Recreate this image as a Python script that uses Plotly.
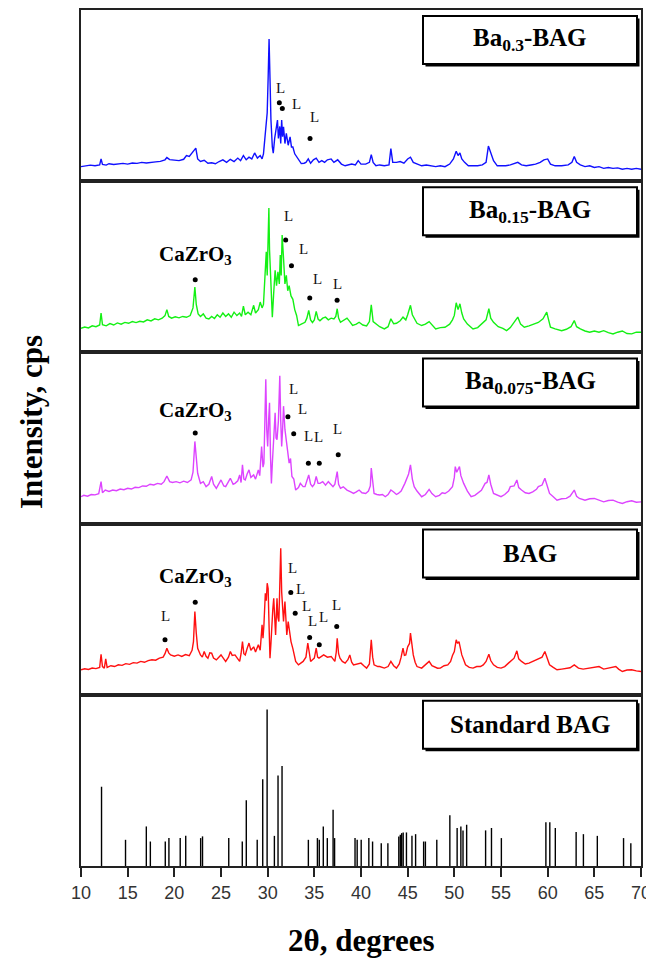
import plotly.graph_objects as go
from plotly.subplots import make_subplots

# ---------------- data (2theta, relative intensity in % of panel height) ----------------
X_RANGE = [10, 70]
X_TICKS = [10, 15, 20, 25, 30, 35, 40, 45, 50, 55, 60, 65, 70]

BA03 = [(10.0, 8.5), (10.5, 8.8), (11.0, 9.4), (11.5, 9.0), (12.0, 9.5), (12.15, 13.0), (12.3, 9.8),
        (12.7, 9.4), (13.0, 10.2), (13.5, 9.8), (14.0, 10.1), (14.5, 10.4), (15.0, 10.0), (15.5, 10.6),
        (16.0, 10.4), (16.5, 11.0), (17.0, 10.6), (17.5, 11.1), (18.0, 11.3), (18.5, 11.6), (19.0, 12.5),
        (19.2, 13.8), (19.5, 12.6), (20.0, 12.3), (20.5, 12.0), (21.0, 12.8), (21.3, 15.0), (21.6, 14.5),
        (21.9, 16.5), (22.1, 18.5), (22.3, 19.3), (22.5, 13.0), (22.8, 11.5), (23.2, 12.2), (23.6, 10.5),
        (24.0, 10.8), (24.4, 10.2), (24.8, 11.5), (25.2, 12.5), (25.6, 11.0), (26.0, 12.8), (26.4, 11.5),
        (26.8, 13.5), (27.1, 12.0), (27.4, 15.0), (27.7, 12.5), (28.0, 14.0), (28.3, 13.0), (28.6, 16.5),
        (28.9, 13.5), (29.2, 15.0), (29.4, 13.0), (29.55, 16.0), (29.7, 25.0), (29.85, 38.0), (29.95, 40.0),
        (30.05, 60.0), (30.15, 83.0), (30.25, 60.0), (30.35, 36.0), (30.5, 20.0), (30.6, 16.4), (30.75, 25.0),
        (30.9, 30.0), (31.05, 35.7), (31.15, 25.0), (31.3, 32.0), (31.4, 22.0), (31.5, 35.7), (31.6, 26.0),
        (31.7, 31.8), (31.85, 22.0), (32.0, 27.9), (32.2, 21.0), (32.4, 25.9), (32.55, 20.0), (32.7, 20.0),
        (32.9, 16.0), (33.1, 14.2), (33.35, 12.0), (33.6, 10.3), (33.9, 10.5), (34.1, 11.0), (34.35, 13.0),
        (34.6, 10.5), (34.9, 12.5), (35.2, 13.5), (35.5, 11.0), (35.8, 12.0), (36.1, 11.0), (36.4, 12.5),
        (36.8, 13.0), (37.1, 11.0), (37.5, 12.5), (37.9, 10.0), (38.3, 9.0), (38.7, 9.5), (39.0, 10.0),
        (39.4, 9.5), (39.7, 12.0), (40.0, 10.0), (40.5, 10.0), (40.9, 11.0), (41.1, 15.5), (41.3, 11.0),
        (41.6, 9.0), (42.0, 9.5), (42.5, 9.0), (43.0, 9.5), (43.2, 19.0), (43.4, 11.0), (43.8, 11.0),
        (44.2, 11.5), (44.6, 10.5), (45.0, 13.0), (45.3, 14.0), (45.6, 11.0), (46.0, 10.0), (46.5, 9.0),
        (47.0, 9.5), (47.5, 9.0), (48.0, 8.5), (48.5, 9.0), (49.0, 8.5), (49.5, 10.0), (49.9, 13.0),
        (50.2, 17.5), (50.4, 15.0), (50.6, 16.5), (50.8, 13.0), (51.1, 11.0), (51.5, 9.0), (52.0, 9.0),
        (52.5, 9.0), (53.0, 9.5), (53.4, 11.0), (53.65, 20.5), (53.9, 16.0), (54.2, 12.0), (54.6, 9.0),
        (55.0, 9.0), (55.5, 9.0), (56.0, 9.5), (56.5, 10.5), (56.8, 11.0), (57.2, 9.5), (57.7, 9.0),
        (58.2, 9.5), (58.7, 10.0), (59.2, 11.0), (59.6, 12.5), (60.0, 13.0), (60.3, 10.0), (60.8, 9.0),
        (61.5, 9.0), (62.2, 9.5), (62.6, 11.0), (62.85, 14.5), (63.1, 11.0), (63.5, 9.5), (64.0, 8.5),
        (64.5, 9.0), (65.0, 8.0), (65.5, 8.5), (66.0, 7.5), (66.5, 8.0), (67.0, 7.5), (67.5, 7.8),
        (68.0, 7.0), (68.5, 7.5), (69.0, 7.0), (69.5, 7.5), (70.0, 7.0)]

BA015 = [(10.0, 14.1), (10.4, 14.8), (10.8, 14.3), (11.2, 15.5), (11.6, 15.0), (12.0, 16.0), (12.15, 23.0),
         (12.3, 16.2), (12.7, 15.5), (13.1, 16.8), (13.5, 16.0), (13.9, 17.2), (14.3, 16.5), (14.7, 17.5),
         (15.1, 17.0), (15.5, 18.0), (15.9, 17.4), (16.3, 18.2), (16.7, 17.8), (17.1, 19.0), (17.5, 18.4),
         (17.9, 19.6), (18.3, 19.0), (18.7, 20.0), (19.0, 21.5), (19.2, 25.0), (19.4, 21.0), (19.7, 20.0),
         (20.1, 20.8), (20.5, 20.2), (20.9, 21.0), (21.3, 20.5), (21.7, 21.5), (22.0, 26.0), (22.2, 38.2),
         (22.35, 28.0), (22.55, 22.5), (22.8, 21.0), (23.1, 22.5), (23.4, 20.0), (23.7, 19.5), (24.0, 21.0),
         (24.3, 19.8), (24.6, 22.0), (24.9, 20.5), (25.2, 23.0), (25.5, 21.0), (25.8, 22.5), (26.1, 20.5),
         (26.4, 23.5), (26.7, 21.5), (27.0, 23.0), (27.2, 21.0), (27.4, 27.0), (27.6, 22.0), (27.9, 23.5),
         (28.2, 22.0), (28.5, 27.5), (28.7, 23.0), (29.0, 25.0), (29.2, 29.4), (29.4, 26.0), (29.55, 28.0),
         (29.7, 45.0), (29.85, 58.8), (29.95, 45.0), (30.05, 70.0), (30.13, 84.3), (30.2, 60.0), (30.3, 45.0),
         (30.5, 20.6), (30.65, 35.0), (30.8, 48.0), (30.95, 39.0), (31.1, 47.0), (31.25, 40.0), (31.35, 56.9),
         (31.45, 45.0), (31.55, 68.6), (31.7, 55.0), (31.85, 40.0), (32.0, 45.0), (32.15, 36.0), (32.3, 39.0),
         (32.5, 33.0), (32.7, 31.0), (32.9, 25.0), (33.1, 21.6), (33.3, 15.7), (33.6, 16.5), (34.0, 17.6),
         (34.2, 20.0), (34.4, 24.5), (34.6, 19.0), (34.8, 17.5), (35.0, 19.0), (35.2, 24.0), (35.4, 19.5),
         (35.6, 18.5), (35.9, 20.0), (36.2, 20.6), (36.5, 19.0), (36.8, 20.0), (37.1, 19.6), (37.3, 21.0),
         (37.45, 25.5), (37.6, 20.0), (37.8, 17.6), (38.1, 18.5), (38.5, 20.0), (38.8, 18.0), (39.1, 15.7),
         (39.5, 16.5), (39.8, 17.6), (40.2, 16.0), (40.6, 15.5), (40.9, 18.0), (41.1, 27.8), (41.3, 18.0),
         (41.6, 16.7), (42.0, 15.0), (42.5, 13.7), (42.9, 15.0), (43.2, 19.6), (43.5, 16.7), (43.8, 17.0),
         (44.2, 18.5), (44.5, 20.6), (44.8, 19.0), (45.0, 22.0), (45.3, 27.5), (45.5, 22.0), (45.7, 19.6),
         (46.0, 17.0), (46.5, 15.7), (46.9, 16.5), (47.3, 18.0), (47.6, 16.0), (48.0, 13.7), (48.5, 14.5),
         (49.0, 14.7), (49.5, 16.5), (49.8, 19.0), (50.0, 21.6), (50.2, 29.0), (50.4, 25.0), (50.6, 28.4),
         (50.8, 23.0), (51.0, 19.6), (51.4, 16.5), (52.0, 13.7), (52.5, 14.5), (53.0, 16.7), (53.4, 19.0),
         (53.7, 25.5), (53.9, 20.0), (54.2, 17.6), (54.7, 15.0), (55.2, 14.0), (55.6, 12.7), (56.0, 14.5),
         (56.4, 17.6), (56.8, 20.6), (57.1, 16.5), (57.5, 14.7), (58.0, 15.5), (58.5, 16.7), (59.0, 17.5),
         (59.5, 19.6), (59.9, 23.5), (60.1, 19.0), (60.3, 14.7), (60.8, 13.7), (61.5, 12.7), (62.0, 13.5),
         (62.5, 15.0), (62.85, 18.6), (63.1, 15.0), (63.5, 13.7), (64.0, 12.5), (64.5, 11.8), (65.0, 12.5),
         (65.5, 11.8), (66.0, 12.7), (66.5, 11.5), (67.0, 10.8), (67.5, 11.8), (68.0, 12.5), (68.5, 11.0),
         (69.0, 10.8), (69.5, 11.8), (70.0, 11.8)]

BA0075 = [(10.0, 15.7), (10.3, 16.5), (10.7, 16.0), (11.1, 17.0), (11.5, 16.8), (11.9, 17.5), (12.15, 24.5),
          (12.3, 18.0), (12.6, 19.6), (13.0, 18.8), (13.4, 19.6), (13.8, 19.2), (14.2, 20.2), (14.6, 19.8),
          (15.0, 20.6), (15.4, 20.2), (15.8, 21.2), (16.2, 21.0), (16.6, 22.0), (17.0, 21.8), (17.4, 23.0),
          (17.8, 22.6), (18.2, 23.5), (18.6, 23.0), (18.9, 24.5), (19.2, 27.8), (19.5, 24.5), (19.8, 24.0),
          (20.2, 24.5), (20.6, 23.8), (21.0, 24.8), (21.4, 24.0), (21.8, 25.5), (22.0, 30.0), (22.2, 48.0),
          (22.35, 36.0), (22.5, 29.4), (22.8, 23.5), (23.1, 24.5), (23.4, 21.6), (23.7, 23.0), (24.0, 27.5),
          (24.2, 23.0), (24.5, 20.6), (24.8, 23.5), (25.0, 25.5), (25.3, 22.0), (25.5, 21.6), (25.8, 24.5),
          (26.0, 26.5), (26.3, 23.0), (26.5, 23.5), (26.8, 25.0), (27.0, 28.4), (27.15, 24.0), (27.3, 34.3),
          (27.45, 26.0), (27.6, 25.5), (27.8, 29.0), (28.0, 31.4), (28.2, 27.0), (28.5, 28.4), (28.7, 26.0),
          (29.0, 31.4), (29.15, 28.0), (29.35, 45.0), (29.5, 33.0), (29.6, 35.3), (29.7, 60.0), (29.8, 84.3),
          (29.9, 55.0), (30.0, 45.0), (30.1, 60.0), (30.2, 70.6), (30.3, 40.0), (30.4, 23.5), (30.5, 35.0),
          (30.6, 45.0), (30.7, 55.0), (30.8, 64.7), (30.9, 50.0), (31.0, 49.0), (31.15, 60.0), (31.3, 86.3),
          (31.4, 60.0), (31.5, 45.0), (31.6, 55.0), (31.7, 68.6), (31.85, 55.0), (32.0, 49.0), (32.15, 42.0),
          (32.3, 35.3), (32.45, 38.0), (32.6, 27.5), (32.8, 26.0), (33.0, 19.6), (33.3, 21.0), (33.5, 23.5),
          (33.8, 21.6), (34.0, 21.6), (34.2, 25.0), (34.4, 28.4), (34.6, 23.0), (34.8, 21.6), (35.0, 23.0),
          (35.2, 27.5), (35.4, 23.5), (35.6, 23.5), (35.9, 24.5), (36.2, 22.5), (36.5, 24.5), (36.8, 23.0),
          (37.0, 21.6), (37.2, 23.0), (37.45, 30.4), (37.6, 23.0), (37.8, 20.6), (38.1, 21.5), (38.5, 19.6),
          (38.9, 18.5), (39.2, 17.6), (39.5, 18.5), (39.8, 19.6), (40.1, 18.0), (40.5, 17.6), (40.8, 19.0),
          (41.0, 22.0), (41.1, 32.4), (41.25, 24.0), (41.4, 17.6), (41.7, 17.0), (42.0, 16.7), (42.3, 17.0),
          (42.6, 15.7), (42.9, 17.0), (43.2, 19.6), (43.5, 18.5), (43.8, 17.0), (44.0, 17.6), (44.3, 19.0),
          (44.7, 23.5), (44.9, 26.0), (45.1, 29.0), (45.3, 34.3), (45.5, 26.0), (45.7, 21.6), (46.0, 19.0),
          (46.5, 15.7), (46.9, 17.0), (47.3, 20.0), (47.6, 17.5), (48.0, 15.7), (48.4, 16.5), (48.7, 18.0),
          (49.0, 17.6), (49.4, 19.0), (49.8, 21.6), (50.0, 27.0), (50.1, 33.3), (50.25, 30.0), (50.4, 31.4),
          (50.55, 33.3), (50.7, 28.0), (50.85, 25.0), (51.0, 23.5), (51.4, 19.0), (51.8, 15.7), (52.2, 16.5),
          (52.5, 17.6), (52.9, 19.5), (53.3, 23.5), (53.5, 24.0), (53.7, 28.4), (53.9, 23.0), (54.2, 17.6),
          (54.6, 16.5), (55.0, 15.7), (55.4, 17.0), (55.8, 19.0), (56.0, 21.6), (56.4, 22.0), (56.7, 25.5),
          (56.9, 21.0), (57.2, 19.6), (57.6, 18.0), (58.0, 17.6), (58.4, 18.5), (58.8, 20.0), (59.0, 21.6),
          (59.4, 22.5), (59.7, 26.5), (59.9, 23.0), (60.2, 17.6), (60.6, 15.7), (61.0, 13.7), (61.5, 14.5),
          (62.0, 14.7), (62.4, 16.0), (62.6, 17.5), (62.85, 19.6), (63.1, 16.0), (63.4, 14.7), (64.0, 13.7),
          (64.5, 14.5), (65.0, 14.7), (65.5, 13.8), (66.0, 12.7), (66.5, 13.5), (67.0, 13.7), (67.5, 12.5),
          (68.0, 11.8), (68.5, 12.8), (69.0, 13.3), (69.5, 12.5), (70.0, 12.7)]

BAG = [(10.0, 14.6), (10.4, 15.2), (10.8, 14.8), (11.2, 15.6), (11.6, 15.3), (12.0, 16.0), (12.15, 23.7),
       (12.3, 16.5), (12.5, 15.6), (12.65, 21.0), (12.8, 16.0), (13.2, 17.0), (13.6, 16.5), (14.0, 17.5),
       (14.4, 17.2), (14.8, 18.2), (15.2, 17.8), (15.6, 18.8), (16.0, 18.5), (16.4, 19.5), (16.8, 19.0),
       (17.2, 20.0), (17.6, 20.5), (18.0, 20.2), (18.4, 21.4), (18.8, 22.0), (19.0, 24.0), (19.2, 27.2),
       (19.4, 24.5), (19.6, 23.3), (20.0, 22.5), (20.4, 23.3), (20.8, 22.4), (21.2, 23.5), (21.6, 22.8),
       (21.9, 26.0), (22.05, 31.1), (22.2, 48.6), (22.35, 36.0), (22.5, 27.2), (22.8, 23.3), (23.0, 22.0),
       (23.2, 25.3), (23.4, 22.5), (23.6, 21.4), (23.8, 24.5), (24.0, 24.3), (24.2, 21.5), (24.5, 20.4),
       (24.8, 22.5), (25.0, 23.3), (25.3, 21.0), (25.5, 19.5), (25.8, 22.0), (26.0, 25.3), (26.2, 23.0),
       (26.5, 23.3), (26.8, 21.0), (27.0, 19.5), (27.15, 24.0), (27.3, 31.1), (27.45, 24.0), (27.6, 23.3),
       (27.8, 27.0), (28.0, 30.2), (28.2, 26.0), (28.5, 28.0), (28.7, 25.0), (29.0, 29.2), (29.2, 26.0),
       (29.4, 40.9), (29.5, 33.0), (29.6, 40.9), (29.75, 59.3), (29.85, 55.0), (29.95, 65.2), (30.05, 62.0),
       (30.15, 40.0), (30.25, 21.4), (30.35, 30.0), (30.45, 42.8), (30.55, 50.0), (30.65, 56.4), (30.75, 45.0),
       (30.85, 35.0), (31.0, 56.4), (31.1, 45.0), (31.2, 42.8), (31.3, 60.0), (31.4, 85.6), (31.5, 60.0),
       (31.6, 46.7), (31.7, 42.8), (31.85, 54.5), (31.95, 45.0), (32.05, 35.0), (32.2, 42.8), (32.35, 35.0),
       (32.5, 31.1), (32.7, 27.0), (33.0, 19.5), (33.3, 17.5), (33.6, 18.5), (33.8, 19.5), (34.1, 22.0),
       (34.3, 30.2), (34.45, 25.0), (34.6, 19.5), (34.8, 20.5), (35.0, 21.4), (35.2, 27.2), (35.35, 22.0),
       (35.5, 21.4), (35.8, 22.5), (36.0, 23.3), (36.4, 22.0), (36.8, 22.4), (37.2, 19.5), (37.35, 25.0),
       (37.45, 33.0), (37.6, 24.0), (37.75, 21.4), (38.0, 19.5), (38.3, 18.5), (38.6, 20.5), (38.8, 23.3),
       (39.0, 19.0), (39.2, 17.5), (39.6, 18.0), (40.0, 18.5), (40.3, 17.0), (40.6, 15.6), (40.9, 18.0),
       (41.0, 23.0), (41.1, 32.1), (41.25, 22.0), (41.4, 17.5), (41.8, 16.5), (42.0, 16.5), (42.5, 15.6),
       (42.9, 16.5), (43.2, 19.5), (43.5, 17.0), (43.8, 15.6), (44.1, 18.0), (44.3, 22.0), (44.5, 27.2),
       (44.65, 23.0), (44.8, 23.3), (45.0, 28.0), (45.2, 30.0), (45.3, 36.0), (45.45, 28.0), (45.6, 23.3),
       (45.8, 19.0), (46.0, 16.5), (46.5, 15.6), (46.9, 17.5), (47.3, 19.5), (47.6, 17.0), (47.8, 16.5),
       (48.2, 15.5), (48.5, 15.6), (48.9, 17.0), (49.3, 17.5), (49.6, 19.5), (49.8, 23.0), (50.0, 25.3),
       (50.2, 32.1), (50.35, 30.0), (50.5, 31.1), (50.65, 27.0), (50.8, 23.3), (51.0, 20.5), (51.2, 17.5),
       (51.6, 16.0), (52.0, 15.6), (52.4, 16.5), (52.8, 16.5), (53.1, 17.5), (53.4, 19.5), (53.7, 23.7),
       (53.9, 20.0), (54.2, 17.5), (54.6, 16.0), (55.0, 15.6), (55.4, 16.5), (55.8, 18.5), (56.0, 19.5),
       (56.4, 21.4), (56.7, 25.7), (56.9, 21.0), (57.2, 19.5), (57.6, 18.0), (58.0, 18.5), (58.4, 19.5),
       (58.7, 20.5), (59.0, 21.4), (59.4, 22.0), (59.7, 25.3), (59.9, 22.0), (60.2, 17.5), (60.6, 16.0),
       (61.0, 14.6), (61.5, 15.0), (62.0, 15.6), (62.4, 15.8), (62.85, 17.5), (63.3, 15.6), (63.8, 15.0),
       (64.5, 15.6), (65.0, 16.0), (65.5, 16.5), (66.0, 15.0), (66.5, 15.6), (67.0, 15.8), (67.3, 16.5),
       (67.6, 15.0), (68.0, 13.6), (68.5, 14.5), (69.0, 14.6), (69.5, 14.0), (70.0, 13.6)]

STD_POS = [12.2, 14.77, 17.0, 17.43, 19.03, 19.42, 20.63, 21.22, 22.82, 23.02, 25.83, 27.28, 27.71,
           28.88, 29.47, 29.94, 30.72, 31.11, 31.54, 34.36, 35.33, 35.53, 35.96, 36.39, 37.01, 37.17,
           39.36, 39.59, 40.02, 40.84, 41.24, 42.17, 42.88, 44.05, 44.21, 44.36, 44.52, 44.87, 45.46,
           45.85, 46.71, 46.9, 48.12, 49.52, 50.3, 50.7, 50.93, 51.32, 53.35, 53.98, 55.04, 59.81,
           60.23, 60.82, 63.05, 63.83, 65.32, 68.13, 68.91]
STD_INT = [46.3, 15.3, 23.1, 14.3, 14.3, 16.3, 16.3, 17.6, 16.3, 17.3, 16.3, 14.3, 38.4,
           15.3, 50.6, 91.4, 17.6, 52.9, 58.4, 15.3, 16.3, 15.3, 23.1, 16.3, 32.9, 16.3,
           16.3, 15.3, 15.3, 16.3, 14.3, 13.3, 13.3, 17.3, 18.2, 19.2, 19.6, 19.6, 17.6,
           18.6, 14.3, 14.3, 15.3, 29.6, 22.2, 23.1, 20.8, 24.1, 20.8, 22.2, 16.3, 25.5,
           25.5, 22.2, 19.8, 18.6, 17.6, 16.3, 13.3]

SAMPLE_NAMES = ["Ba<sub>0.3</sub>-BAG", "Ba<sub>0.15</sub>-BAG", "Ba<sub>0.075</sub>-BAG", "BAG", "Standard BAG"]
SERIES = [BA03, BA015, BA0075, BAG]
COLORS = ["#1010ff", "#14f014", "#dd44ff", "#ff1010"]

# phase markers (row, dots, L-label positions)
L_DOTS = {1: [(31.25, 45.8), (31.57, 42.5), (34.54, 25.0)],
          2: [(31.93, 65.7), (32.55, 50.6), (34.51, 31.8), (37.44, 30.4)],
          3: [(32.17, 62.4), (32.79, 52.5), (34.36, 35.3), (35.53, 35.3), (37.56, 40.2)],
          4: [(19.0, 32.1), (32.48, 59.7), (32.95, 47.7), (34.5, 33.5), (35.53, 29.2), (37.4, 39.9)]}
L_TEXT = {1: [(31.4, 54.2), (33.04, 45.0), (35.07, 37.6)],
          2: [(32.28, 79.4), (33.85, 60.4), (35.3, 43.1), (37.48, 40.2)],
          3: [(32.79, 78.8), (33.73, 66.7), (34.36, 51.0), (35.41, 50.6), (37.44, 55.3)],
          4: [(19.0, 46.3), (32.68, 74.0), (33.5, 62.0), (34.15, 52.0), (34.75, 43.0), (35.95, 45.5), (37.37, 52.5)]}
CAZRO3_DOT = {2: (22.24, 42.5), 3: (22.24, 52.9), 4: (22.24, 54.0)}
CAZRO3_TEXT = {2: (22.24, 56.9), 3: (22.24, 65.7), 4: (22.24, 69.0)}

# ---------------- figure ----------------
# the page body has an 8 px margin, so the figure is offset by (8, 8) on the page
OFF = 8
PLOT_L, PLOT_R, PLOT_T, PLOT_B = 81, 641, 10, 866   # target plot area in page pixels
W, H = 654 - OFF, 970 - OFF
ML, MT = PLOT_L - OFF, PLOT_T - OFF
MR, MB = W - (PLOT_R - OFF), H - (PLOT_B - OFF)
PW, PH = PLOT_R - PLOT_L, PLOT_B - PLOT_T


def paper_x(px):
    return (px - PLOT_L) / PW


def paper_y(py):
    return (PLOT_B - py) / PH


fig = make_subplots(rows=5, cols=1, shared_xaxes=True, vertical_spacing=0)

for i, s in enumerate(SERIES):
    fig.add_trace(go.Scatter(x=[p[0] for p in s], y=[p[1] for p in s], mode="lines",
                             line=dict(color=COLORS[i], width=1.4), hoverinfo="skip"),
                  row=i + 1, col=1)

# standard sticks
sx, sy = [], []
for p, v in zip(STD_POS, STD_INT):
    sx += [p, p, None]
    sy += [0, v, None]
fig.add_trace(go.Scatter(x=sx, y=sy, mode="lines", line=dict(color="black", width=1.4),
                         hoverinfo="skip"), row=5, col=1)

# dots
for r, pts in L_DOTS.items():
    xs = [p[0] for p in pts]
    ys = [p[1] for p in pts]
    if r in CAZRO3_DOT:
        xs.append(CAZRO3_DOT[r][0])
        ys.append(CAZRO3_DOT[r][1])
    fig.add_trace(go.Scatter(x=xs, y=ys, mode="markers", marker=dict(color="black", size=5),
                             hoverinfo="skip"), row=r, col=1)

annotations = []
shapes = []
panel_h = PH / 5
for r in range(1, 6):
    suf = "" if r == 1 else str(r)
    xd, yd = f"x{suf} domain", f"y{suf} domain"
    x0, x1 = paper_x(423), paper_x(637)
    y0, y1 = 1 - 54 / panel_h, 1 - 6 / panel_h
    dx, dy = 2.5 / PW, 2.5 / panel_h
    shapes.append(dict(type="rect", xref=xd, yref=yd, x0=x0 + dx, x1=x1 + dx, y0=y0 - dy, y1=y1 - dy,
                       fillcolor="black", line=dict(width=0), layer="above"))
    shapes.append(dict(type="rect", xref=xd, yref=yd, x0=x0, x1=x1, y0=y0, y1=y1,
                       fillcolor="white", line=dict(color="black", width=2), layer="above"))
    annotations.append(dict(xref=xd, yref=yd, x=(x0 + x1) / 2, y=(y0 + y1) / 2,
                            xanchor="center", yanchor="middle",
                            text=f"<b>{SAMPLE_NAMES[r - 1]}</b>", showarrow=False,
                            font=dict(family="Liberation Serif", size=25, color="black")))

for r, pts in L_TEXT.items():
    suf = "" if r == 1 else str(r)
    for (x, y) in pts:
        annotations.append(dict(xref=f"x{suf}", yref=f"y{suf}", x=x, y=y, text="L", showarrow=False,
                                xanchor="center", yanchor="middle",
                                font=dict(family="Liberation Serif", size=15, color="#111")))
for r, (x, y) in CAZRO3_TEXT.items():
    annotations.append(dict(xref=f"x{r}", yref=f"y{r}", x=x, y=y, text="<b>CaZrO<sub>3</sub></b>",
                            xanchor="center", yanchor="middle",
                            showarrow=False, font=dict(family="Liberation Serif", size=21, color="black")))

annotations.append(dict(xref="paper", yref="paper", x=paper_x(31), y=paper_y(422),
                        xanchor="center", yanchor="middle",
                        text="<b>Intensity, cps</b>", textangle=-90, showarrow=False,
                        font=dict(family="Liberation Serif", size=31, color="black")))
annotations.append(dict(xref="paper", yref="paper", x=paper_x(361), y=paper_y(940),
                        xanchor="center", yanchor="middle",
                        text="<b>2θ, degrees</b>", showarrow=False,
                        font=dict(family="Liberation Serif", size=31, color="black")))

fig.update_layout(width=W, height=H, margin=dict(l=ML, r=MR, t=MT, b=MB, autoexpand=False),
                  paper_bgcolor="white", plot_bgcolor="white", showlegend=False,
                  shapes=shapes, annotations=annotations)

for r in range(1, 6):
    fig.update_yaxes(range=[0, 100], showticklabels=False, ticks="", showgrid=False, zeroline=False,
                     showline=True, mirror=True, linecolor="#222", linewidth=2, fixedrange=True,
                     automargin=False, row=r, col=1)
    fig.update_xaxes(range=X_RANGE, showgrid=False, zeroline=False, showline=True, mirror=True,
                     linecolor="#222", linewidth=2, row=r, col=1, automargin=False,
                     showticklabels=(r == 5), ticks=("outside" if r == 5 else ""),
                     tickvals=X_TICKS, ticklen=9, tickwidth=1.5, tickcolor="#222",
                     tickfont=dict(family="Liberation Sans", size=18, color="#333"))

fig.write_html("out.html")
